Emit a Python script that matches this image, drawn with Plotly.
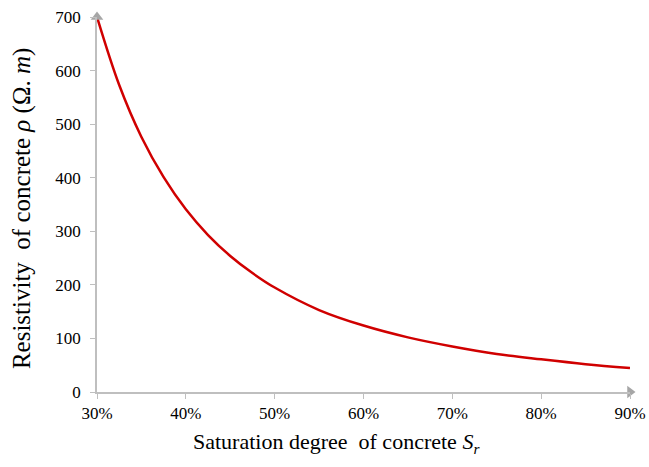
import plotly.graph_objects as go

# Saturation degree (fraction) and resistivity (ohm·m)
saturation = [0.30, 0.325, 0.35, 0.375, 0.40, 0.425, 0.45, 0.475, 0.50,
              0.55, 0.60, 0.65, 0.70, 0.75, 0.80, 0.85, 0.90]
resistivity = [700, 573, 476, 401, 341, 293, 254, 222, 195,
               153, 124, 102, 85, 71, 61, 52, 45]

x_ticks = [0.3, 0.4, 0.5, 0.6, 0.7, 0.8, 0.9]
x_tick_labels = ["30%", "40%", "50%", "60%", "70%", "80%", "90%"]
y_ticks = [0, 100, 200, 300, 400, 500, 600, 700]

# Axis end points carrying the arrow heads
x_range = [0.3, 0.9]
y_range = [0, 700]

axis_grey = "#bfbfbf"
arrow_grey = "#a6a6a6"
serif = "Liberation Serif, Times New Roman, serif"

fig = go.Figure()
fig.add_trace(go.Scatter(
    x=saturation, y=resistivity, mode="lines",
    line=dict(color="#d00000", width=2.5, shape="spline", smoothing=1.0),
    cliponaxis=False, showlegend=False,
))

# Arrow heads at the ends of both axes
fig.add_trace(go.Scatter(
    x=[x_range[0]], y=[y_range[1]], mode="markers",
    marker=dict(symbol="triangle-up", size=11, color=arrow_grey),
    cliponaxis=False, showlegend=False, hoverinfo="skip",
))
fig.add_trace(go.Scatter(
    x=[x_range[1]], y=[y_range[0]], mode="markers",
    marker=dict(symbol="triangle-right", size=11, color=arrow_grey),
    cliponaxis=False, showlegend=False, hoverinfo="skip",
))

# Axis titles placed as paper-anchored text
fig.add_annotation(
    text="Saturation degree  of concrete <i>S<sub>r</sub></i>",
    xref="paper", yref="paper", x=0.45, y=-0.136,
    xanchor="center", yanchor="middle", showarrow=False,
    font=dict(size=22, family=serif, color="black"),
)
fig.add_annotation(
    text="Resistivity  of concrete <i>ρ</i> (Ω. <i>m</i>)",
    xref="paper", yref="paper", x=-0.141, y=0.49,
    xanchor="center", yanchor="middle", textangle=-90, showarrow=False,
    font=dict(size=25, family=serif, color="black"),
)

fig.update_layout(
    width=649, height=467,
    margin=dict(l=97, r=19, t=17, b=75),
    paper_bgcolor="white", plot_bgcolor="white",
    font=dict(family=serif, color="black"),
    xaxis=dict(
        range=x_range, tickvals=x_ticks, ticktext=x_tick_labels,
        automargin=False,
        showgrid=False, zeroline=False, showline=True, linecolor=axis_grey,
        linewidth=1.5, ticks="outside", ticklen=5, tickcolor=axis_grey,
        tickfont=dict(size=17, family=serif),
    ),
    yaxis=dict(
        range=y_range, tickvals=y_ticks,
        automargin=False,
        showgrid=False, zeroline=False, showline=True, linecolor=axis_grey,
        linewidth=1.5, ticks="outside", ticklen=5, tickcolor=axis_grey,
        tickfont=dict(size=17, family=serif), ticklabelstandoff=6,
    ),
)

fig.write_html("out.html")
